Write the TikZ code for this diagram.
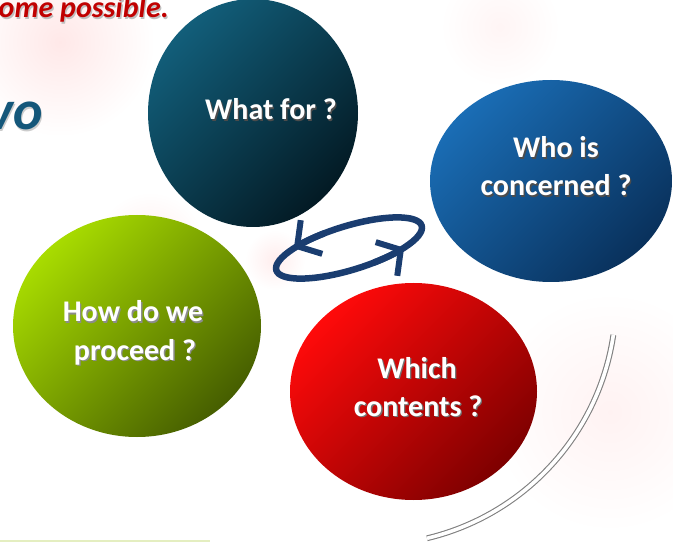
\documentclass[tikz,border=0pt]{standalone}
\usepackage{fontspec}
\setmainfont{Carlito}
\usetikzlibrary{shapes.geometric,arrows.meta}
\definecolor{wfTop}{HTML}{125E7A}
\definecolor{wfBot}{HTML}{031A24}
\definecolor{whoTop}{HTML}{1A6DB5}
\definecolor{whoBot}{HTML}{09315C}
\definecolor{howTop}{HTML}{A8DC00}
\definecolor{howBot}{HTML}{465E00}
\definecolor{whTop}{HTML}{FF0A0A}
\definecolor{whBot}{HTML}{7E0000}
\definecolor{navy}{HTML}{1A3D70}
\definecolor{darkred}{HTML}{C00000}
\definecolor{teal}{HTML}{15577A}
\definecolor{paleline}{HTML}{E4EEC0}
\newcommand\shd[2]{\makebox[0pt][l]{\kern1.3pt\raisebox{-1.3pt}{\textcolor{#1}{#2}}}#2}
\begin{document}
\begin{tikzpicture}[x=1pt,y=1pt,
  bubble/.style 2 args={ellipse, inner sep=0pt, draw=none, top color=#1, bottom color=#2, shading angle=45},
  lbl/.style={text=white, font=\bfseries\fontsize{30}{38}\selectfont, inner sep=0pt, anchor=base},
  cyc/.style={draw=navy, line width=6.5pt},
  barb/.style={-{Straight Barb[length=17pt, width=40pt, line width=6pt, sharp]}},
  blob/.style={inner color=#1, outer color=white, draw=none}]
\useasboundingbox (0,0) rectangle (673,542);
\fill[white] (0,0) rectangle (673,542);
% faint background
\shade[blob=red!9] (60,500) circle[radius=95];
\shade[blob=red!7] (150,295) circle[radius=55];
\shade[blob=red!7] (275,282) circle[radius=30];
\shade[blob=red!5] (610,130) circle[radius=120];
\shade[blob=red!4] (500,515) circle[radius=60];
\draw[paleline, line width=2pt] (0,1) -- (210,1);
% header texts
\node[inner sep=0pt, anchor=base east, text=darkred, font=\bfseries\itshape\fontsize{30}{34}\selectfont] (hdr) at (169,524) {\shd{black!25}{ome possible.}};
\node[inner sep=0pt, anchor=base east, text=teal, font=\bfseries\itshape\fontsize{56}{60}\selectfont] (vo) at (43,412) {\shd{black!20}{vo}};
% bubbles
\node[bubble={wfTop}{wfBot}, minimum width=210pt, minimum height=228pt] (whatfor) at (253,429) {};
\node[bubble={whoTop}{whoBot}, minimum width=242pt, minimum height=202pt] (who) at (551,361) {};
\node[bubble={howTop}{howBot}, minimum width=248pt, minimum height=222pt] (how) at (137,216) {};
\node[bubble={whTop}{whBot}, minimum width=247pt, minimum height=217pt] (which) at (413.5,150.5) {};
% labels
\node[lbl] (t1) at (271,422) {\shd{black!70}{What for ?}};
\node[lbl] (t2) at (556,384) {\shd{black!70}{Who is}};
\node[lbl] (t3) at (556,346) {\shd{black!70}{concerned ?}};
\node[lbl] (t4) at (133,220) {\shd{black!45}{How do we}};
\node[lbl] (t5) at (135,182) {\shd{black!45}{proceed ?}};
\node[lbl] (t6) at (417,164) {\shd{black!55}{Which}};
\node[lbl] (t7) at (418,126) {\shd{black!55}{contents ?}};
% cycle arrow
\begin{scope}[shift={(349,294)}, rotate=17]
  \draw[cyc] (0,0) ellipse[x radius=76, y radius=22];
  \draw[cyc, barb] (105:76 and 22) arc[start angle=105, end angle=134, x radius=76, y radius=22];
  \draw[cyc, barb] (-75:76 and 22) arc[start angle=-75, end angle=-46, x radius=76, y radius=22];
\end{scope}
% double arc
\draw[gray, line width=1.1pt, double=white, double distance=3.6pt]
  (370,243) ++(-8.4:246) arc[start angle=-8.4, end angle=-76.6, radius=246];
\end{tikzpicture}
\end{document}
